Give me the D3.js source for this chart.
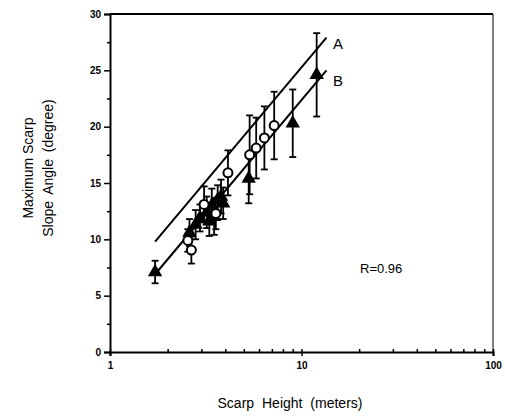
<!DOCTYPE html>
<html>
<head>
<meta charset="utf-8">
<script src="https://cdn.jsdelivr.net/npm/d3@7"></script>
<style>
  body { margin: 0; background: #fff; }
  text { font-family: "Liberation Sans", Arial, sans-serif; fill: #000; }
</style>
</head>
<body>
<div id="chart"></div>
<script>
// open circles (line A)
const heightsA = [2.55, 2.66, 3.1, 3.57, 4.13, 5.36, 5.8, 6.4, 7.2];
const anglesA  = [9.9, 9.05, 13.1, 12.3, 15.9, 17.5, 18.1, 19.0, 20.1];
const errA     = [1.0, 1.2, 1.6, 1.4, 2.0, 3.5, 2.7, 2.8, 3.0];

// filled triangles (line B)
const heightsB = [1.72, 2.6, 2.8, 2.95, 3.2, 3.3, 3.4, 3.5, 3.65, 3.8, 3.9, 5.3, 9.0, 12.0];
const anglesB  = [7.1, 10.6, 11.3, 11.9, 12.4, 11.6, 13.0, 12.0, 13.5, 13.8, 13.2, 15.4, 20.3, 24.6];
const errB     = [1.0, 1.2, 1.3, 1.2, 1.4, 1.3, 1.5, 1.6, 1.3, 1.5, 1.4, 2.2, 3.0, 3.7];

// regression line end points
const lineA = [[1.72, 9.8], [13.5, 27.9]];
const lineB = [[1.72, 6.9], [13.5, 25.0]];

const yTicks = [0, 5, 10, 15, 20, 25, 30];
const yMinor = [2.5, 7.5, 12.5, 17.5, 22.5, 27.5];
const xTicks = [1, 10, 100];
const xMinor = [2, 3, 4, 5, 6, 7, 8, 9, 20, 30, 40, 50, 60, 70, 80, 90];

const W = 505, H = 417;
const svg = d3.select("#chart").append("svg")
  .attr("width", W).attr("height", H);

const x = d3.scaleLog().domain([1, 100]).range([110, 493]);
const y = d3.scaleLinear().domain([0, 30]).range([352, 14]);

// frame (top and right)
svg.append("line").attr("x1", 110).attr("x2", 493).attr("y1", 14).attr("y2", 14)
  .attr("stroke", "#000").attr("stroke-width", 2);
svg.append("line").attr("x1", 493).attr("x2", 493).attr("y1", 14).attr("y2", 352)
  .attr("stroke", "#000").attr("stroke-width", 1);

// y axis
svg.append("g").attr("transform", "translate(110,0)")
  .call(d3.axisLeft(y).tickValues(yTicks).tickSize(6).tickPadding(3));
svg.append("g").attr("transform", "translate(110,0)")
  .call(d3.axisLeft(y).tickValues(yMinor).tickSize(3).tickFormat(""))
  .select(".domain").remove();

// x axis
svg.append("g").attr("transform", "translate(0,352)")
  .call(d3.axisBottom(x).tickValues(xTicks).tickSize(4).tickPadding(6).tickFormat(d3.format("d")));
svg.append("g").attr("transform", "translate(0,352)")
  .call(d3.axisBottom(x).tickValues(xMinor.concat(xTicks)).tickSize(-3).tickFormat(""))
  .select(".domain").remove();

svg.selectAll(".domain").attr("stroke-width", 2);
svg.selectAll(".tick line").attr("stroke-width", 1.5);
svg.selectAll(".tick text").style("font-size", "10px").style("font-weight", "bold");

// axis titles
svg.append("text").attr("transform", "translate(33,168) rotate(-90)")
  .attr("text-anchor", "middle").style("font-size", "14px")
  .text("Maximum Scarp");
svg.append("text").attr("transform", "translate(53,168) rotate(-90)")
  .attr("text-anchor", "middle").style("font-size", "14px").style("word-spacing", "3px")
  .text("Slope Angle (degree)");
svg.append("text").attr("x", 290).attr("y", 408)
  .attr("text-anchor", "middle").style("font-size", "14px").style("word-spacing", "4px")
  .text("Scarp Height (meters)");

// regression lines
const lineGen = d3.line().x(d => x(d[0])).y(d => y(d[1]));
[lineA, lineB].forEach(l => {
  svg.append("path").attr("d", lineGen(l))
    .attr("fill", "none").attr("stroke", "#000").attr("stroke-width", 2);
});

function errorBars(hs, as, es) {
  const g = svg.append("g").attr("stroke", "#000").attr("stroke-width", 1.8);
  hs.forEach((h, i) => {
    const cx = x(h), top = y(as[i] + es[i]), bot = y(as[i] - es[i]);
    g.append("line").attr("x1", cx).attr("x2", cx).attr("y1", top).attr("y2", bot);
    g.append("line").attr("x1", cx - 3.5).attr("x2", cx + 3.5).attr("y1", top).attr("y2", top);
    g.append("line").attr("x1", cx - 3.5).attr("x2", cx + 3.5).attr("y1", bot).attr("y2", bot);
  });
}
errorBars(heightsB, anglesB, errB);
errorBars(heightsA, anglesA, errA);

// triangles
const tri = d3.symbol().type(d3.symbolTriangle).size(90);
svg.append("g").selectAll("path").data(heightsB).join("path")
  .attr("d", tri)
  .attr("transform", (d, i) => `translate(${x(d)},${y(anglesB[i])})`)
  .attr("fill", "#000");

// circles
svg.append("g").selectAll("circle").data(heightsA).join("circle")
  .attr("cx", d => x(d)).attr("cy", (d, i) => y(anglesA[i]))
  .attr("r", 4.5)
  .attr("fill", "#fff").attr("stroke", "#000").attr("stroke-width", 2);

// labels
svg.append("text").attr("x", 333).attr("y", 49).style("font-size", "15px").text("A");
svg.append("text").attr("x", 333).attr("y", 86).style("font-size", "15px").text("B");
svg.append("text").attr("x", 360).attr("y", 273).style("font-size", "13px").text("R=0.96");
</script>
</body>
</html>
